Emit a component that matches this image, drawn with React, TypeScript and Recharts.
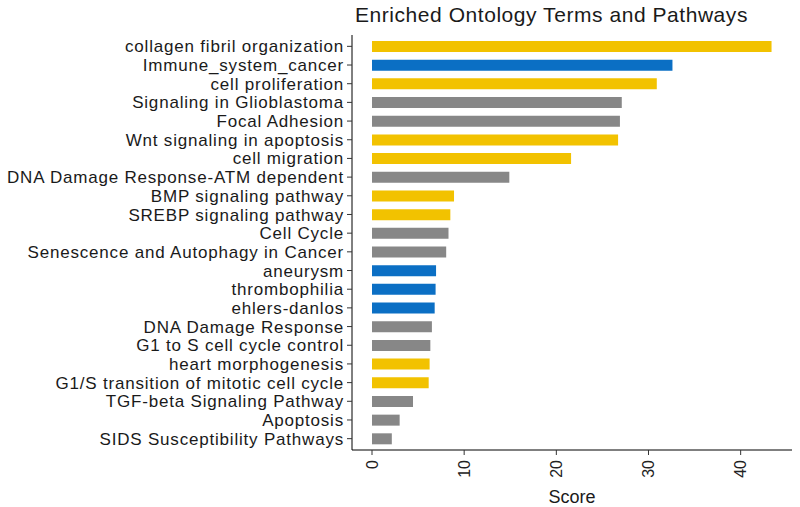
import { BarChart, Bar, Cell, XAxis, YAxis } from "recharts";

const FONT = "'Liberation Sans', Arial, sans-serif";

const categories = [
  "collagen fibril organization",
  "Immune_system_cancer",
  "cell proliferation",
  "Signaling in Glioblastoma",
  "Focal Adhesion",
  "Wnt signaling in apoptosis",
  "cell migration",
  "DNA Damage Response-ATM dependent",
  "BMP signaling pathway",
  "SREBP signaling pathway",
  "Cell Cycle",
  "Senescence and Autophagy in Cancer",
  "aneurysm",
  "thrombophilia",
  "ehlers-danlos",
  "DNA Damage Response",
  "G1 to S cell cycle control",
  "heart morphogenesis",
  "G1/S transition of mitotic cell cycle",
  "TGF-beta Signaling Pathway",
  "Apoptosis",
  "SIDS Susceptibility Pathways",
];

const scores = [
  43.35, 32.6, 30.9, 27.1, 26.9, 26.7, 21.6, 14.9, 8.9, 8.5, 8.3, 8.05,
  6.95, 6.9, 6.8, 6.5, 6.33, 6.25, 6.15, 4.45, 3.0, 2.15,
];

// GO = yellow, disease = blue, pathway = gray
const groups = [
  "GO", "disease", "GO", "pathway", "pathway", "GO", "GO", "pathway",
  "GO", "GO", "pathway", "pathway", "disease", "disease", "disease",
  "pathway", "pathway", "GO", "GO", "pathway", "pathway", "pathway",
];

const xTicks = [0, 10, 20, 30, 40];

const GROUP_COLORS: Record<string, string> = {
  GO: "#f2c200",
  disease: "#0b6fc4",
  pathway: "#878787",
};

const data = categories.map((name, i) => ({
  name,
  score: scores[i],
  group: groups[i],
}));

const RotatedTick = ({ x, y, payload }: any) => (
  <text
    x={x}
    y={y}
    dy="0.36em"
    transform={`rotate(-90, ${x}, ${y})`}
    textAnchor="end"
    fill="#222"
    fontSize={16}
    fontFamily={FONT}
  >
    {payload.value}
  </text>
);

export default function App() {
  return (
    <div style={{ position: "absolute", left: 0, top: 0, width: 800, height: 507, background: "#fff" }}>
      <div
        style={{
          position: "absolute",
          left: 355,
          top: 4,
          fontFamily: FONT,
          fontSize: 21,
          letterSpacing: 0.55,
          lineHeight: "21px",
          color: "#1a1a1a",
          whiteSpace: "nowrap",
        }}
      >
        Enriched Ontology Terms and Pathways
      </div>
      <BarChart
        width={800}
        height={507}
        data={data}
        layout="vertical"
        margin={{ top: 35, right: 8, bottom: 0, left: 0 }}
      >
        <XAxis
          type="number"
          dataKey="score"
          domain={[-2.17, 45.57]}
          ticks={xTicks}
          allowDataOverflow
          height={57}
          tickSize={5}
          tickMargin={5}
          tick={<RotatedTick />}
          axisLine={{ stroke: "#000", strokeWidth: 1 }}
          tickLine={{ stroke: "#333" }}
          label={{
            value: "Score",
            position: "insideBottom",
            offset: 4,
            fill: "#1a1a1a",
            fontSize: 18,
            fontFamily: FONT,
          }}
        />
        <YAxis
          type="category"
          dataKey="name"
          width={352}
          interval={0}
          tickSize={5}
          tickMargin={3}
          padding={{ top: 2, bottom: 2 }}
          axisLine={{ stroke: "#000", strokeWidth: 1 }}
          tickLine={{ stroke: "#333" }}
          tick={{ fill: "#1a1a1a", fontSize: 17, letterSpacing: 0.8, fontFamily: FONT }}
        />
        <Bar dataKey="score" barSize={11} isAnimationActive={false}>
          {data.map((d, i) => (
            <Cell key={i} fill={GROUP_COLORS[d.group]} />
          ))}
        </Bar>
      </BarChart>
    </div>
  );
}
